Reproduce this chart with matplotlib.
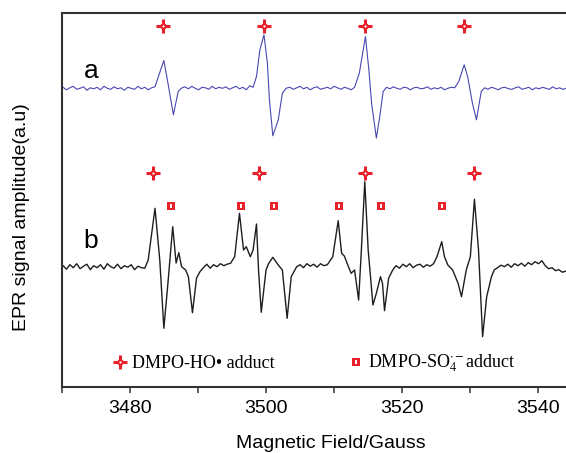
import numpy as np
import matplotlib
matplotlib.use("Agg")
import matplotlib.pyplot as plt

plt.rcParams['font.family'] = ['Liberation Sans', 'DejaVu Sans']
plt.rcParams['mathtext.fontset'] = 'stix'

# Spectrum a (HO adduct only), field in Gauss, signal relative to its baseline
a_field = [3470.2, 3470.7, 3471.2, 3471.7, 3472.2, 3472.7, 3473.2, 3473.7, 3474.2, 3474.7,
           3475.2, 3475.7, 3476.2, 3476.7, 3477.2, 3477.7, 3478.2, 3478.7, 3479.2, 3479.7,
           3480.2, 3480.7, 3481.2, 3481.7, 3482.2, 3482.7, 3483.2, 3483.7,
           3484.2, 3485.0, 3485.6, 3486.4, 3487.1, 3487.6,
           3488.1, 3488.6, 3489.1, 3489.6, 3490.1, 3490.6, 3491.1, 3491.6, 3492.1, 3492.6,
           3493.1, 3493.6, 3494.1, 3494.6, 3495.1, 3495.6, 3496.1, 3496.6, 3497.1, 3497.6, 3498.1,
           3498.6, 3499.1, 3499.7, 3500.2, 3500.5, 3501.0, 3501.8, 3502.4, 3503.0,
           3503.5, 3504.0, 3504.5, 3505.0, 3505.5, 3506.0, 3506.5, 3507.0, 3507.5, 3508.0,
           3508.5, 3509.0, 3509.5, 3510.0, 3510.5, 3511.0, 3511.5, 3512.0, 3512.5, 3513.0,
           3513.7, 3514.6, 3515.1, 3515.5, 3516.2, 3516.7, 3517.2,
           3517.7, 3518.2, 3518.7, 3519.2, 3519.7, 3520.2, 3520.7, 3521.2, 3521.7, 3522.2,
           3522.7, 3523.2, 3523.7, 3524.2, 3524.7, 3525.2, 3525.7, 3526.2, 3526.7, 3527.2, 3527.7,
           3528.3, 3529.1, 3529.6, 3530.3, 3530.9, 3531.6,
           3532.1, 3532.6, 3533.1, 3533.6, 3534.1, 3534.6, 3535.1, 3535.6, 3536.1, 3536.6,
           3537.1, 3537.6, 3538.1, 3538.6, 3539.1, 3539.6, 3540.1, 3540.6, 3541.1, 3541.6,
           3542.1, 3542.6, 3543.1, 3543.6, 3544.1, 3544.6, 3545.1]
a_signal = [1.0, -1.5, 0.5, 2.0, -1.0, 0.0, 1.5, -2.0, 0.5, -0.5,
            1.0, -1.5, 2.0, 0.0, -1.0, 1.5, -0.5, 0.5, -2.0, 1.0,
            0.0, -1.0, 2.0, -0.5, 1.0, -1.5, 0.5, 1.5,
            11.8, 27.8, 5.2, -26.5, -3.2, 0.2,
            1.5, -0.5, 2.0, 0.0, -1.5, 1.0, 0.5, -1.0, 2.0, -0.5,
            1.0, 0.0, 1.5, -1.0, 0.5, 2.0, -0.5, 1.0, -1.5, 2.5, 1.0,
            11.8, 38.5, 53.5, 25.2, -11.5, -47.5, -31.5, -4.8, 0.2,
            1.0, -1.0, 0.5, 2.0, -0.5, 1.0, -1.5, 0.5, 1.5, -1.0,
            0.0, 1.0, -0.5, 2.0, 0.5, -1.0, 1.0, 0.0, -1.5, 1.0,
            15.2, 51.8, 18.5, -14.8, -49.8, -28.2, -3.2,
            1.0, -0.5, 1.5, 0.0, -1.0, 1.0, 0.5, -1.5, 0.5, 1.0,
            -0.5, 0.0, 1.5, -1.0, 0.5, -0.5, 1.0, -1.5, 0.0, 1.0, 0.5,
            6.8, 23.5, 11.8, -14.8, -31.5, -3.2,
            0.5, -1.0, 1.0, 0.0, -1.5, 0.5, 1.0, -0.5, -1.0, 0.5,
            1.5, -1.0, 0.0, 1.0, -1.5, 0.5, -0.5, 1.0, 0.0, -1.0,
            1.5, -0.5, 0.5, -1.0, 0.0, 1.0, -0.5]

# Spectrum b (HO and SO4 adducts)
b_field = [3470.2, 3470.7, 3471.2, 3471.7, 3472.2, 3472.7, 3473.2, 3473.7, 3474.2, 3474.7,
           3475.2, 3475.7, 3476.2, 3476.7, 3477.2, 3477.7, 3478.2, 3478.7, 3479.2, 3479.7,
           3480.2, 3480.7, 3481.2, 3481.7, 3482.2,
           3482.7, 3483.7, 3484.4, 3485.0, 3485.6, 3486.3, 3486.8, 3487.2, 3487.6, 3488.2,
           3488.6, 3489.2, 3489.8, 3490.3,
           3490.8, 3491.3, 3491.8, 3492.3, 3492.8, 3493.3, 3493.8, 3494.3, 3494.8,
           3495.4, 3496.1, 3496.7, 3497.1, 3497.7, 3498.1, 3498.6, 3498.9, 3499.3, 3500.0,
           3500.4, 3501.0, 3501.8, 3502.4, 3503.1, 3503.7, 3504.5,
           3505.0, 3505.5, 3506.0, 3506.5, 3507.0, 3507.5, 3508.0, 3508.5, 3509.0,
           3509.8, 3510.6, 3511.1, 3511.5, 3512.0, 3512.5, 3513.0, 3513.6, 3514.0, 3514.5,
           3515.0, 3515.7, 3516.2, 3516.8, 3517.1, 3517.4, 3518.0, 3518.6,
           3519.1, 3519.6, 3520.1, 3520.6, 3521.1, 3521.6, 3522.1, 3522.6, 3523.1, 3523.6,
           3524.1, 3524.6,
           3525.1, 3525.8, 3526.2, 3526.7, 3527.4, 3528.2, 3528.7, 3529.4, 3530.0, 3530.6,
           3531.2, 3531.8, 3532.4, 3533.1, 3533.5,
           3534.0, 3534.5, 3535.0, 3535.5, 3536.0, 3536.5, 3537.0, 3537.5, 3538.0, 3538.5,
           3539.0, 3539.5, 3540.0, 3540.5, 3541.0, 3541.5, 3542.0, 3542.5, 3543.0, 3543.5,
           3544.0, 3544.5, 3545.0]
b_signal = [1.0, -2.5, 2.0, -1.0, 3.0, -2.0, 0.5, 2.5, -3.0, 1.0,
            -1.0, 2.0, -2.5, 3.0, 0.0, -1.5, 2.5, -2.0, 1.0, -0.5,
            2.0, -3.0, 0.5, -1.0, -1.5,
            6.7, 58.4, 6.7, -61.6, -16.3, 40.0, 3.7, 14.0, 0.0, -3.3,
            -10.0, -46.0, -11.3, -5.0,
            -1.0, 2.5, -1.5, 2.0, 0.0, 3.0, 1.0, 2.5, 3.5,
            10.0, 53.4, 16.7, 20.0, 10.0, 16.7, 42.7, -3.3, -45.6, -3.3,
            3.4, 9.4, 1.7, -3.3, -51.6, -10.0, 0.0,
            2.0, -1.0, 3.0, 0.5, 2.5, -0.5, 3.0, 1.0, 2.0,
            10.0, 46.0, 13.4, 10.7, 1.7, -6.6, -3.3, -33.3, 16.7, 85.0,
            16.7, -38.3, -26.6, -10.0, -16.6, -44.0, -11.6, -3.3,
            1.0, -1.5, 2.5, 0.0, 3.0, -1.0, 1.5, 2.5, -0.5, 2.0,
            0.5, 3.0,
            10.0, 25.0, 10.0, 1.7, -3.3, -16.6, -30.0, -3.3, 10.0, 67.4,
            16.7, -70.0, -30.0, -10.0, -3.3,
            -1.0, 1.5, 0.0, 2.5, -0.5, 3.0, 1.0, 3.5, 0.5, 4.0,
            2.0, 5.0, 3.0, 6.0, 1.0, -2.0, -1.0, -4.0, -3.0, -5.5,
            -4.5, -6.0, -5.0]

# Peak assignments
a_ho_field = [3484.9, 3499.7, 3514.6, 3529.1]
b_ho_field = [3483.4, 3499.0, 3514.5, 3530.5]
b_so4_field = [3486.1, 3496.3, 3501.2, 3510.7, 3516.9, 3525.9]

red = '#e8202a'
W, H = 566, 453

fig = plt.figure(figsize=(W / 100, H / 100), dpi=100)
ax = fig.add_axes([61.7 / W, (H - 386.7) / H, (572.5 - 61.7) / W, (386.7 - 12.7) / H])

a_offset = 298.4
b_offset = 120.0
ax.plot(a_field, a_offset + np.array(a_signal), color='#4848b0', lw=0.8)
ax.plot(b_field, b_offset + np.array(b_signal), color='#1e1e1e', lw=1.0)


def cross(xs, ys, **kw):
    ax.plot(xs, ys, ls='none', marker='+', ms=10, mew=2.2, color=red, **kw)
    ax.plot(xs, ys, ls='none', marker='o', ms=4.6, mew=0, color=red, **kw)
    ax.plot(xs, ys, ls='none', marker='o', ms=1.6, mew=0, color='white', **kw)


bar = [(-0.25, -1), (0.25, -1), (0.25, 1), (-0.25, 1), (-0.25, -1)]


def square(xs, ys, **kw):
    ax.plot(xs, ys, ls='none', marker='s', ms=6.3, mew=0, color=red, **kw)
    ax.plot(xs, ys, ls='none', marker=bar, ms=3.2, mew=0, color='white', **kw)


cross(a_ho_field, [360.7] * len(a_ho_field))
cross(b_ho_field, [214.2] * len(b_ho_field))
square(b_so4_field, [180.7] * len(b_so4_field))

ax.set_xlim(3470, 3545)
ax.set_ylim(0, 374)
ax.set_yticks([])
ax.set_xticks([3480, 3500, 3520, 3540])
ax.set_xticks([3470, 3490, 3510, 3530], minor=True)
ax.tick_params(axis='x', which='both', direction='out', length=4.3, width=1.1,
               color='#333333', labelsize=14, pad=5)
for s in ax.spines.values():
    s.set_color('#333333')
    s.set_linewidth(1.5)

# trace labels
fig.text(91.7 / W, 1 - 78 / H, 'a', fontsize=19, ha='center', va='baseline')
fig.text(91.0 / W, 1 - 248 / H, 'b', fontsize=19, ha='center', va='baseline')

# legend drawn by hand
tf = fig.transFigure
cross([120 / W], [1 - 361.7 / H], transform=tf, clip_on=False)
square([356 / W], [1 - 361.7 / H], transform=tf, clip_on=False)
fig.text(131.7 / W, 1 - 367.5 / H, 'DMPO-HO\u2022 adduct', fontsize=13,
         family='Liberation Serif', va='baseline')
fig.text(368.3 / W, 1 - 367.5 / H, r'DMPO-SO$_4^{\cdot -}$adduct', fontsize=13,
         family='Liberation Serif', va='baseline')

# axis titles
fig.text(331 / W, 1 - 447.5 / H, 'Magnetic Field/Gauss', fontsize=14,
         ha='center', va='baseline')
fig.text(22 / W, 1 - 217 / H, 'EPR signal amplitude(a.u)', fontsize=14,
         rotation=90, ha='center', va='center')

fig.savefig('out.png', dpi=100)
